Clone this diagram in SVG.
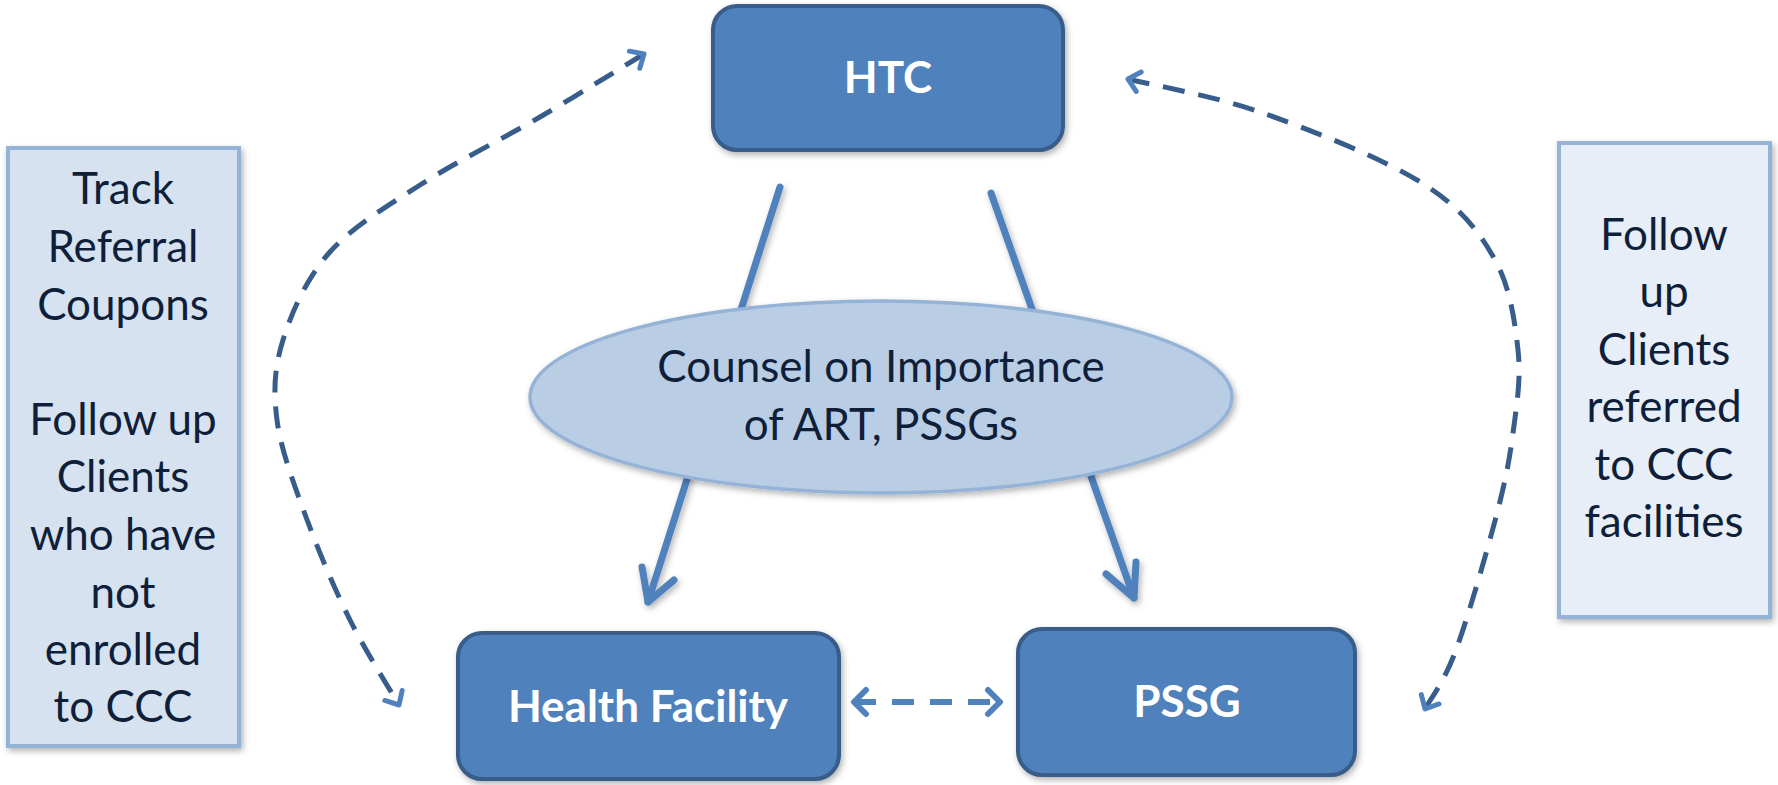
<svg xmlns="http://www.w3.org/2000/svg" width="1778" height="785" viewBox="0 0 1778 785">
<style>
.node rect{fill:#4f81bd;stroke:#385d8a;stroke-width:4}
.nlabel{font-family:"Lato","Open Sans",sans-serif;font-weight:bold;font-size:44px;fill:#ffffff;text-anchor:middle}
.side{font-family:"Lato","Open Sans",sans-serif;font-size:44px;fill:#0f1f3a;text-anchor:middle}
.solid{fill:none;stroke:#4f81bd;stroke-width:7;stroke-linecap:round;stroke-linejoin:round}
.dash{fill:none;stroke:#385d8a;stroke-width:5;stroke-dasharray:22 14}
.dash2{fill:none;stroke:#4f81bd;stroke-width:6;stroke-dasharray:22 16}
</style>
<defs>
<filter id="sh" x="-20%" y="-20%" width="140%" height="140%">
<feDropShadow dx="2" dy="3" stdDeviation="3" flood-color="#000" flood-opacity="0.3"/>
</filter>
<marker id="mh" viewBox="-14 -14 28 28" markerWidth="28" markerHeight="28" refX="0" refY="0" orient="auto-start-reverse" markerUnits="userSpaceOnUse">
<path d="M-11,-10 L0,0 L-11,10" fill="none" stroke="#4f81bd" stroke-width="5" stroke-linecap="round" stroke-linejoin="round"/>
</marker>
<marker id="mh2" viewBox="-16 -16 32 32" markerWidth="32" markerHeight="32" refX="0" refY="0" orient="auto-start-reverse" markerUnits="userSpaceOnUse">
<path d="M-12,-12 L0,0 L-12,12" fill="none" stroke="#4f81bd" stroke-width="6" stroke-linecap="round" stroke-linejoin="round"/>
</marker>
</defs>
<rect width="1778" height="785" fill="#ffffff"/>

<g id="connectors">
<g filter="url(#sh)">
<path class="solid" d="M780,187 L648,602"/>
<path class="solid" d="M642,567 L648,602 L674,580"/>
<path class="solid" d="M991,193 L1134,598"/>
<path class="solid" d="M1106,574 L1134,598 L1136,562"/>
</g>
<path class="dash" marker-start="url(#mh)" marker-end="url(#mh)" d="M644,54 C626.7,64.5 577.3,95.2 540,117 C502.7,138.8 455.2,162.3 420,185 C384.8,207.7 351.8,227.2 329,253 C306.2,278.8 291.7,312.2 283,340 C274.3,367.8 273.2,390.5 277,420 C280.8,449.5 293.8,483.7 306,517 C318.2,550.3 334.5,588.7 350,620 C365.5,651.3 390.8,690.8 399,705"/>
<path class="dash" marker-start="url(#mh)" marker-end="url(#mh)" d="M1128,79 C1150.5,84.7 1214,95.7 1263,113 C1312,130.3 1383.5,158.8 1422,183 C1460.5,207.2 1478,230.2 1494,258 C1510,285.8 1514.8,320.8 1518,350 C1521.2,379.2 1516.7,405.2 1513,433 C1509.3,460.8 1505.5,480.8 1496,517 C1486.5,553.2 1467.8,618 1456,650 C1444.2,682 1430.2,699.2 1425,709"/>
<path class="dash2" marker-start="url(#mh2)" marker-end="url(#mh2)" d="M854,702 L1000,702"/>
</g>

<g id="counsel">
<ellipse cx="881" cy="397" rx="351" ry="96" fill="#b9cde5" stroke="#95b3d7" stroke-width="3.5" filter="url(#sh)"/>
<text class="side" x="881" y="382">Counsel on Importance</text>
<text class="side" x="881" y="440">of ART, PSSGs</text>
</g>

<g id="htc" class="node">
<rect x="713" y="6" width="350" height="144" rx="24" filter="url(#sh)"/>
<text class="nlabel" x="888" y="93">HTC</text>
</g>

<g id="health-facility" class="node">
<rect x="458" y="633" width="381" height="146" rx="24" filter="url(#sh)"/>
<text class="nlabel" x="648" y="722">Health Facility</text>
</g>

<g id="pssg" class="node">
<rect x="1018" y="629" width="337" height="146" rx="24" filter="url(#sh)"/>
<text class="nlabel" x="1187" y="717">PSSG</text>
</g>

<g id="left-note">
<rect x="8" y="148" width="231" height="598" fill="#d6e2f0" stroke="#95b3d7" stroke-width="4" filter="url(#sh)"/>
<text class="side" x="123" y="204">Track</text>
<text class="side" x="123" y="262">Referral</text>
<text class="side" x="123" y="320">Coupons</text>
<text class="side" x="123" y="435">Follow up</text>
<text class="side" x="123" y="492">Clients</text>
<text class="side" x="123" y="550">who have</text>
<text class="side" x="123" y="608">not</text>
<text class="side" x="123" y="665">enrolled</text>
<text class="side" x="123" y="722">to CCC</text>
</g>

<g id="right-note">
<rect x="1559" y="143" width="211" height="474" fill="#e7eef7" stroke="#95b3d7" stroke-width="4" filter="url(#sh)"/>
<text class="side" x="1664" y="250">Follow</text>
<text class="side" x="1664" y="307">up</text>
<text class="side" x="1664" y="365">Clients</text>
<text class="side" x="1664" y="422">referred</text>
<text class="side" x="1664" y="480">to CCC</text>
<text class="side" x="1664" y="537">facilities</text>
</g>
</svg>
